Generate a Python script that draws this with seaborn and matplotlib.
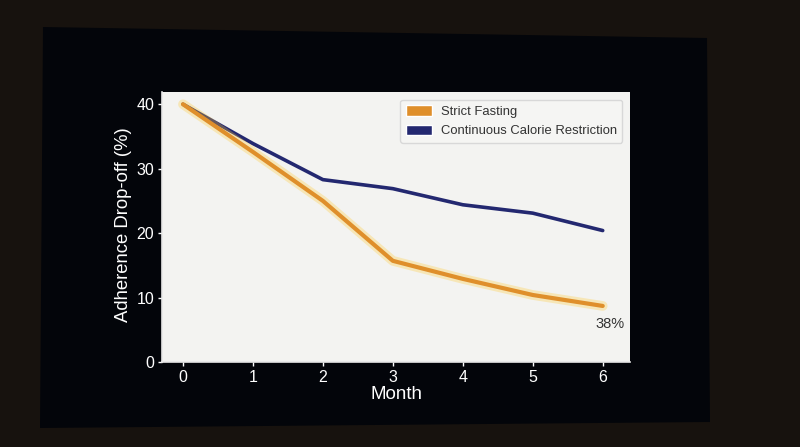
import matplotlib
matplotlib.use("Agg")
import matplotlib.pyplot as plt
import matplotlib.patheffects as pe
from matplotlib.patches import Patch, Polygon
import pandas as pd
import seaborn as sns

months = [0, 1, 2, 3, 4, 5, 6]
strict_fasting = [40.0, 32.6, 25.0, 15.7, 12.9, 10.4, 8.7]
continuous_cr = [40.0, 33.9, 28.3, 26.9, 24.4, 23.1, 20.4]
series_names = ["Strict Fasting", "Continuous Calorie Restriction"]
end_label = "38%"

orange = "#df8f2b"
navy = "#232870"

sns.set_theme(style="white")
plt.rcParams["font.family"] = ["Liberation Sans", "DejaVu Sans"]

fig = plt.figure(figsize=(8, 4.47), dpi=100)
fig.patch.set_facecolor("#17120e")

# the screen the chart is shown on
screen = Polygon([(43 / 800, 1 - 27 / 447), (707 / 800, 1 - 38 / 447),
                  (710 / 800, 1 - 422 / 447), (40 / 800, 1 - 428 / 447)],
                 closed=True, transform=fig.transFigure,
                 facecolor="#03050a", edgecolor="none", zorder=-5)
fig.patches.append(screen)

ax = fig.add_axes([162 / 800, 85 / 447, 468 / 800, 270 / 447])
ax.set_zorder(2)
ax.set_facecolor("#f3f3f1")

df = pd.DataFrame({
    "Month": months * 2,
    "value": strict_fasting + continuous_cr,
    "series": [series_names[0]] * 7 + [series_names[1]] * 7,
})

sns.lineplot(data=df[df.series == series_names[1]], x="Month", y="value",
             color=navy, linewidth=2.6, ax=ax, legend=False)
sns.lineplot(data=df[df.series == series_names[0]], x="Month", y="value",
             color=orange, linewidth=3.0, ax=ax, legend=False,
             path_effects=[pe.Stroke(linewidth=7, foreground="#ffc933", alpha=0.3),
                           pe.Normal()])

ax.annotate(end_label, xy=(months[-1], strict_fasting[-1]), xytext=(5, -13),
            textcoords="offset points", ha="center", va="center",
            fontsize=10.5, color="#333333")

ax.set_xlim(-0.3, 6.39)
ax.set_ylim(0, 41.9)
ax.set_xticks(months)
ax.set_yticks([0, 10, 20, 30, 40])
ax.set_xlabel("Month", fontsize=13.5, color="white", labelpad=1)
ax.set_ylabel("Adherence Drop-off (%)", fontsize=13.3, color="white", labelpad=3)
ax.yaxis.label.set_y(0.51)
ax.tick_params(colors="white", labelsize=11.5, length=3, width=1,
               bottom=True, left=True, labelcolor="white", pad=2.5)
for side in ["top", "right"]:
    ax.spines[side].set_visible(False)
for side in ["left", "bottom"]:
    ax.spines[side].set_color("#e8e8e8")
    ax.spines[side].set_linewidth(1.2)

handles = [Patch(facecolor=orange), Patch(facecolor=navy)]
leg = ax.legend(handles, series_names, loc="upper right", fontsize=9.4,
                frameon=True, framealpha=1, facecolor="#f5f5f3",
                edgecolor="#d8d8d8", borderpad=0.4, handlelength=2.0,
                handleheight=0.9, handletextpad=0.7, borderaxespad=0.6,
                labelspacing=0.5)
for t in leg.get_texts():
    t.set_color("#333333")

fig.savefig("out.png", dpi=100, facecolor=fig.get_facecolor())
